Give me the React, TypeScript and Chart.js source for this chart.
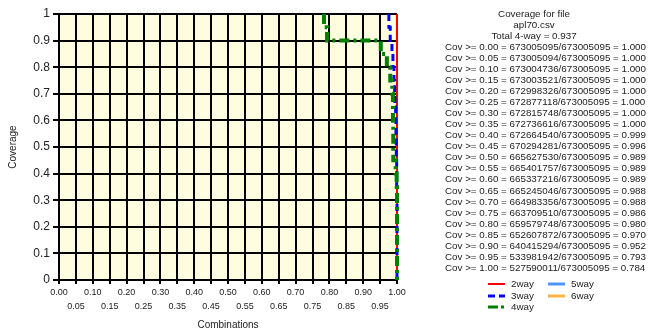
import React, { useEffect, useRef } from 'react';
import { Chart, registerables } from 'chart.js';

Chart.register(...registerables);

// ---------- data ----------
const fileName = 'apl70.csv';
const total4wayLabel = '0.937';
const totalCombos = 673005095;

// coverage thresholds (y values), from 0.00 to 1.00
const thresholds = [0.0, 0.05, 0.1, 0.15, 0.2, 0.25, 0.3, 0.35, 0.4, 0.45, 0.5, 0.55, 0.6, 0.65, 0.7, 0.75, 0.8, 0.85, 0.9, 0.95, 1.0];

// number of 4-way combinations reaching each threshold
const coveredCounts = [
  673005095, 673005094, 673004736, 673003521, 672998326, 672877118, 672815748, 672736616,
  672664540, 670294281, 665627530, 665401757, 665337216, 665245046, 664983356, 663709510,
  659579748, 652607872, 640415294, 533981942, 527590011,
];

// fraction of combinations (x values) for each threshold
const combos2way = [1, 1, 1, 1, 1, 1, 1, 1, 1, 1, 1, 1, 1, 1, 1, 1, 1, 1, 1, 1, 1];
const combos3way = [1, 1, 1, 1, 1, 1, 1, 1, 0.999, 0.999, 0.998, 0.998, 0.997, 0.996, 0.994, 0.993, 0.991, 0.988, 0.985, 0.98, 0.976];
const combos4way = [1, 1, 1, 1, 1, 1, 1, 1, 0.999, 0.996, 0.989, 0.989, 0.989, 0.988, 0.988, 0.986, 0.98, 0.97, 0.952, 0.793, 0.784];
const combos5way: number[] = [];
const combos6way: number[] = [];

const xTickLabels = ['0.00', '0.05', '0.10', '0.15', '0.20', '0.25', '0.30', '0.35', '0.40', '0.45', '0.50', '0.55', '0.60', '0.65', '0.70', '0.75', '0.80', '0.85', '0.90', '0.95', '1.00'];
const yTickLabels = ['0', '0.1', '0.2', '0.3', '0.4', '0.5', '0.6', '0.7', '0.8', '0.9', '1'];

const seriesNames = ['2way', '3way', '4way', '5way', '6way'];
const seriesColors = ['#ff0000', '#0000ff', '#008000', '#4d96ff', '#ffb347'];
const seriesDash = [[], [7, 4], [10, 4, 3, 4], [], []];
const seriesWidth = [2, 3, 4, 3, 3];
const seriesX = [combos2way, combos3way, combos4way, combos5way, combos6way];

// ---------- styling ----------
const FONT = '"Liberation Sans", Arial, Helvetica, sans-serif';
const TEXT = '#222222';
const PLOT_BG = '#fffde0';

const toPoints = (xs: number[]) =>
  xs.map((x, i) => ({ x, y: thresholds[i] })).reverse();

const panelPlugin = {
  id: 'panel',
  beforeDraw(chart: any) {
    const { ctx, chartArea } = chart;
    ctx.save();
    ctx.fillStyle = PLOT_BG;
    ctx.fillRect(chartArea.left, chartArea.top, chartArea.right - chartArea.left, chartArea.bottom - chartArea.top);
    ctx.restore();
  },
  afterDraw(chart: any) {
    const { ctx } = chart;
    ctx.save();
    ctx.font = `9.8px ${FONT}`;
    ctx.fillStyle = TEXT;
    ctx.textBaseline = 'middle';
    const lh = 11.05;
    const top = 14;
    const titles = ['Coverage for file', fileName, `Total 4-way = ${total4wayLabel}`];
    ctx.textAlign = 'center';
    titles.forEach((t, i) => ctx.fillText(t, 534, top + i * lh));
    ctx.textAlign = 'left';
    thresholds.forEach((t, i) => {
      const ratio = (coveredCounts[i] / totalCombos).toFixed(3);
      ctx.fillText(`Cov >= ${t.toFixed(2)} = ${coveredCounts[i]}/${totalCombos} = ${ratio}`, 445, top + (i + 3) * lh);
    });
    // legend
    const legendPos = [
      [488, 284], [488, 296], [488, 307], [548, 284], [548, 296],
    ];
    seriesNames.forEach((name, i) => {
      const [lx, ly] = legendPos[i];
      ctx.beginPath();
      ctx.strokeStyle = seriesColors[i];
      ctx.lineWidth = i === 0 ? 2 : 3;
      ctx.setLineDash(i === 2 ? [10, 3, 3, 3] : seriesDash[i]);
      ctx.moveTo(lx, ly);
      ctx.lineTo(lx + 17, ly);
      ctx.stroke();
      ctx.setLineDash([]);
      ctx.fillStyle = TEXT;
      ctx.fillText(name, lx + 23, ly);
    });
    ctx.restore();
  },
};

export default function App() {
  const ref = useRef<HTMLCanvasElement | null>(null);

  useEffect(() => {
    if (!ref.current) return;
    const datasets = seriesNames.map((name, i) => ({
      label: name,
      data: toPoints(seriesX[i]),
      borderColor: seriesColors[i],
      backgroundColor: seriesColors[i],
      borderWidth: seriesWidth[i],
      borderDash: seriesDash[i],
      pointRadius: 0,
      stepped: 'after' as const,
      fill: false,
      clip: false as any,
      order: [3, 2, 1, 4, 5][i],
    }));

    const chart = new Chart(ref.current, {
      type: 'line',
      data: { datasets },
      options: {
        animation: false,
        responsive: true,
        maintainAspectRatio: false,
        layout: { padding: { left: 0, top: 14, right: 255, bottom: 0 } },
        plugins: { legend: { display: false }, tooltip: { enabled: false } },
        scales: {
          x: {
            type: 'linear',
            min: 0,
            max: 1,
            afterFit: (s: any) => { s.height = 51; },
            grid: { color: '#000', lineWidth: 2, tickLength: 4, tickColor: '#000', drawTicks: true },
            border: { color: '#000', width: 2 },
            ticks: {
              stepSize: 0.05,
              autoSkip: false,
              maxRotation: 0,
              padding: 2,
              color: TEXT,
              font: { family: FONT, size: 9, lineHeight: '14px' as any },
              callback: (_v: any, i: number) => (i % 2 === 0 ? xTickLabels[i] : ['', xTickLabels[i]]),
            },
            title: {
              display: true,
              text: 'Combinations',
              color: TEXT,
              font: { family: FONT, size: 10 },
              padding: { top: 0, bottom: 0 },
            },
          },
          y: {
            type: 'linear',
            min: 0,
            max: 1,
            afterFit: (s: any) => { s.width = 59; },
            grid: { color: '#000', lineWidth: 2, tickLength: 6, tickColor: '#000', drawTicks: true },
            border: { color: '#000', width: 2 },
            ticks: {
              stepSize: 0.1,
              padding: 3,
              color: TEXT,
              font: { family: FONT, size: 12 },
              callback: (_v: any, i: number) => yTickLabels[i],
            },
            title: {
              display: true,
              text: 'Coverage',
              color: TEXT,
              font: { family: FONT, size: 10 },
              padding: { top: 7, bottom: 0 },
            },
          },
        },
      },
      plugins: [panelPlugin],
    });
    return () => chart.destroy();
  }, []);

  return (
    <div style={{ position: 'fixed', left: 0, top: 0, width: 652, height: 331, background: '#fff' }}>
      <canvas ref={ref} />
    </div>
  );
}
